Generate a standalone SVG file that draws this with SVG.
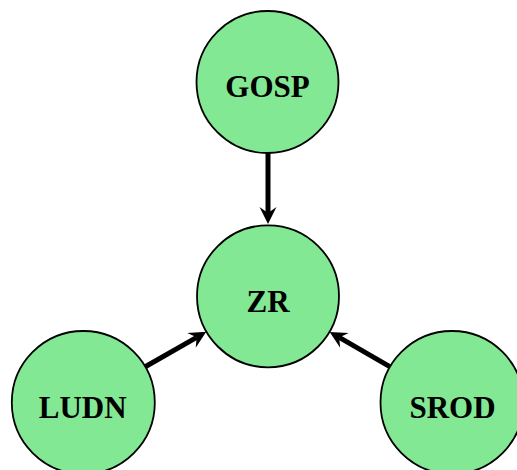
<svg xmlns="http://www.w3.org/2000/svg" width="517" height="470" viewBox="0 0 517 470">
  <style>
    .node circle { fill: #83e893; stroke: #000; stroke-width: 1.8; }
    .node text { font-family: "Liberation Serif", "Times New Roman", serif; font-weight: bold; font-size: 31px; text-anchor: middle; fill: #000; }
    .edge { stroke: #000; stroke-width: 5; fill: none; marker-end: url(#arrow); }
  </style>
  <defs>
    <marker id="arrow" markerUnits="userSpaceOnUse" markerWidth="30" markerHeight="30" refX="0" refY="0" orient="auto" overflow="visible">
      <path d="M11,0 L-6,-8.5 L0,0 L-6,8.5 Z" fill="#000"/>
    </marker>
  </defs>
  <rect width="517" height="470" fill="#fff"/>
  <g id="connectors">
    <line class="edge" x1="268" y1="153" x2="268" y2="213"/>
    <line class="edge" x1="144.8" y1="367" x2="196.7" y2="337.3"/>
    <line class="edge" x1="390.2" y1="366.8" x2="339.2" y2="337.4"/>
  </g>
  <g id="node-GOSP" class="node">
    <circle cx="267.5" cy="82" r="71"/>
    <text x="267.5" y="97.3">GOSP</text>
  </g>
  <g id="node-ZR" class="node">
    <circle cx="268" cy="296.3" r="71"/>
    <text x="268" y="311.6">ZR</text>
  </g>
  <g id="node-LUDN" class="node">
    <circle cx="83.3" cy="402.5" r="71.5"/>
    <text x="82.7" y="417.7">LUDN</text>
  </g>
  <g id="node-SROD" class="node">
    <circle cx="452" cy="402.5" r="71.5"/>
    <text x="452.5" y="417.7">SROD</text>
  </g>
</svg>
